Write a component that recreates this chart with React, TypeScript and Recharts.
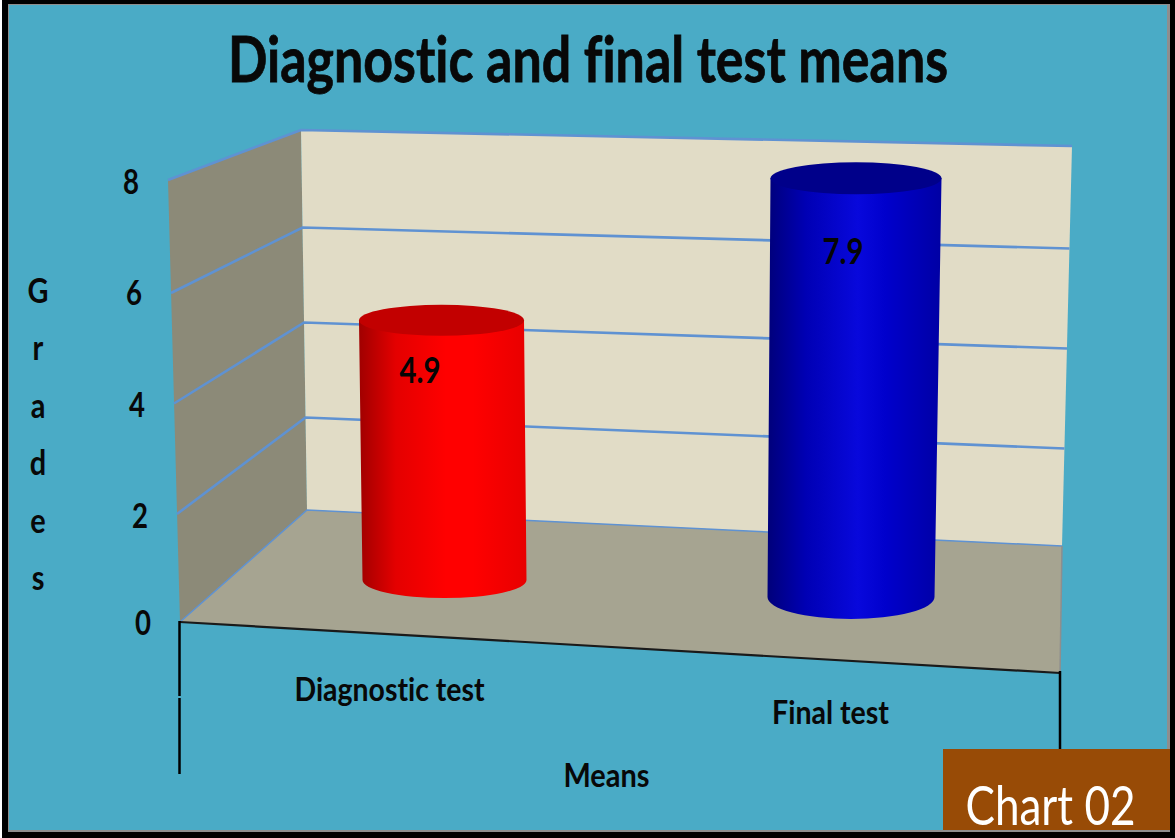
import React from "react";
import { ComposedChart, Bar, Line, XAxis, YAxis, Customized, Label } from "recharts";

const categories = ["Diagnostic test", "Final test"];
const means = [4.9, 7.9];
const gradeTicks = [0, 2, 4, 6, 8];
const yLetters = ["G", "r", "a", "d", "e", "s"];
const chartData = categories.map((name, i) => ({ name, mean: means[i] }));

const W = 1175;
const H = 838;
const FONT = "Lato, 'Noto Sans', sans-serif";
const BG = "#4AABC6";
const GRID = "#5F92D2";
const INK = "#080808";
const noLig = { fontVariantLigatures: "none" as const };

// Perspective look of the 3D box
const wall = {
  frontTop: [168, 180], frontBottom: [180, 622],
  backTop: [301, 130], backBottom: [307, 510],
  rightTop: [1072, 146], rightBottom: [1062, 546],
  floorRight: [1060, 673],
};
const lerp = (a: number[], b: number[], t: number) => [a[0] + (b[0] - a[0]) * t, a[1] + (b[1] - a[1]) * t];
const pts = (...p: number[][]) => p.map((q) => q.join(",")).join(" ");

const barLook = [
  { lift: -43, topShift: 0, topHalf: 82.5, topRy: 15.5, botShift: 3, botHalf: 82, botRy: 18, labelX: 420, labelBase: 383, labelW: 41, top: "#C20000", stops: ["#A00000", "#E40000", "#FF0000", "#FF0000", "#E80000"] },
  { lift: -26, topShift: 2.5, topHalf: 85.5, topRy: 16, botShift: -2.5, botHalf: 83.5, botRy: 22, labelX: 843, labelBase: 264, labelW: 41, top: "#00008A", stops: ["#00007A", "#0000B4", "#0808DC", "#0000CC", "#0000A4"] },
];
const xTickLook = [
  { x: 389.5, base: 701, w: 190 },
  { x: 830.5, base: 724, w: 117 },
];

function Box() {
  return (
    <g>
      <polygon points={pts(wall.frontTop, wall.backTop, wall.backBottom, wall.frontBottom)} fill="#8C8A78" />
      <polygon points={pts(wall.backTop, wall.rightTop, wall.rightBottom, wall.backBottom)} fill="#E1DCC6" />
      <polygon points={pts(wall.backBottom, wall.rightBottom, wall.floorRight, wall.frontBottom)} fill="#A6A491" />
      {gradeTicks.map((v) => {
        const t = v / 8;
        const sag = v === 0 || v === 8 ? 0 : 2.5;
        const a = lerp(wall.frontBottom, wall.frontTop, t);
        const b = lerp(wall.backBottom, wall.backTop, t);
        const c = lerp(wall.rightBottom, wall.rightTop, t);
        a[1] += sag; b[1] += sag; c[1] += sag;
        return <polyline key={v} points={pts(a, b, c)} fill="none" stroke={GRID} strokeWidth={v === 0 ? 1.5 : 2.6} />;
      })}
      <line x1={wall.rightBottom[0]} y1={wall.rightBottom[1]} x2={wall.floorRight[0]} y2={wall.floorRight[1]} stroke="#8E8E8E" strokeWidth={1.5} />
      <line x1={wall.frontBottom[0]} y1={wall.frontBottom[1]} x2={wall.floorRight[0]} y2={wall.floorRight[1]} stroke="#1A1A1A" strokeWidth={2.2} />
      <line x1={179.5} y1={621} x2={179.5} y2={696} stroke="#000" strokeWidth={2.5} />
      <line x1={179.5} y1={698} x2={179.5} y2={774} stroke="#000" strokeWidth={2.5} />
      <line x1={1060} y1={671} x2={1060} y2={750} stroke="#000" strokeWidth={2.5} />
    </g>
  );
}

function Overlay() {
  return (
    <g fontFamily={FONT} style={noLig}>
      <text x={588} y={82} textAnchor="middle" fontSize={63} fontWeight={700} fill={INK} stroke={INK} strokeWidth={0.8} textLength={720} lengthAdjust="spacingAndGlyphs">
        Diagnostic and final test means
      </text>
      {yLetters.map((c, i) => (
        <text key={i} x={38} y={303 + i * 57.4} textAnchor="middle" fontSize={34} fontWeight={700} fill={INK} transform={`translate(38 0) scale(0.85 1) translate(-38 0)`}>{c}</text>
      ))}
      <rect x={943} y={749} width={227} height={81} fill="#984B06" />
      <text x={1050.5} y={825} textAnchor="middle" fontSize={54} fill="#FFFFFF" textLength={170} lengthAdjust="spacingAndGlyphs">Chart 02</text>
    </g>
  );
}

function Cylinder(props: any) {
  const { x, y, width, height, index } = props;
  const k = barLook[index];
  const cx = x + width / 2;
  const topY = y + k.lift;
  const botY = y + height + k.lift;
  const tx = cx + k.topShift;
  const bx = cx + k.botShift;
  const id = `cyl-${index}`;
  const offs = ["0%", "22%", "52%", "68%", "100%"];
  return (
    <g>
      <defs>
        <linearGradient id={id} x1="0" y1="0" x2="1" y2="0">
          {k.stops.map((c, i) => <stop key={i} offset={offs[i]} stopColor={c} />)}
        </linearGradient>
      </defs>
      <path
        d={`M${tx - k.topHalf},${topY} L${bx - k.botHalf},${botY} A${k.botHalf},${k.botRy} 0 0 0 ${bx + k.botHalf},${botY} L${tx + k.topHalf},${topY} Z`}
        fill={`url(#${id})`}
      />
      <ellipse cx={tx} cy={topY} rx={k.topHalf} ry={k.topRy} fill={k.top} />
    </g>
  );
}

function BarValue(props: any) {
  const { index, value } = props;
  const k = barLook[index];
  return (
    <text x={k.labelX} y={k.labelBase} textAnchor="middle" fontFamily={FONT} fontSize={36} fontWeight={700} fill="#050505" textLength={k.labelW} lengthAdjust="spacingAndGlyphs">
      {value}
    </text>
  );
}

function GradeTick(props: any) {
  const { y, payload } = props;
  const v = payload.value;
  const nudge: Record<number, number> = { 0: 0, 2: 3, 4: 2.5, 6: 1, 8: 0 };
  return (
    <text x={131 + (8 - v) * 1.5} y={y + 12 + nudge[v]} textAnchor="middle" fontFamily={FONT} fontSize={35} fontWeight={700} fill={INK} textLength={16} lengthAdjust="spacingAndGlyphs">
      {v}
    </text>
  );
}

function CategoryTick(props: any) {
  const { payload, index } = props;
  const k = xTickLook[index];
  return (
    <text x={k.x} y={k.base} textAnchor="middle" fontFamily={FONT} fontSize={33} fontWeight={700} fill={INK} style={noLig} textLength={k.w} lengthAdjust="spacingAndGlyphs">
      {payload.value}
    </text>
  );
}

function AxisTitle(props: any) {
  return (
    <text x={606.5} y={787} textAnchor="middle" fontFamily={FONT} fontSize={32} fontWeight={700} fill={INK} textLength={86} lengthAdjust="spacingAndGlyphs">
      {props.value}
    </text>
  );
}

export default function App() {
  return (
    <div style={{ position: "absolute", left: 0, top: 0, width: W, height: H, background: "#fff" }}>
      <div style={{ position: "absolute", left: 2, top: 0, width: W - 2, height: H, background: "#000" }} />
      <div style={{ position: "absolute", left: 8, top: 4, width: 1162, height: 828, background: "#8E8E8E" }} />
      <div style={{ position: "absolute", left: 9, top: 5, width: 1158, height: 825, background: BG }} />
      <div style={{ position: "absolute", left: 0, top: 0 }}>
        <ComposedChart width={W} height={H} data={chartData} margin={{ top: 182, right: 116, bottom: 0, left: 0 }} barCategoryGap={0}>
          <Customized component={Box} />
          <XAxis dataKey="name" axisLine={false} tickLine={false} height={215} interval={0} tick={<CategoryTick />}>
            <Label value="Means" content={<AxisTitle value="Means" />} />
          </XAxis>
          <YAxis yAxisId="grade" domain={[0, 8]} ticks={gradeTicks} width={235} axisLine={false} tickLine={false} tick={<GradeTick />} />
          <YAxis yAxisId="bars" hide domain={[0, 8.32]} />
          <Line yAxisId="grade" dataKey="mean" stroke="none" dot={false} activeDot={false} legendType="none" isAnimationActive={false} />
          <Bar yAxisId="bars" dataKey="mean" barSize={165} shape={<Cylinder />} label={<BarValue />} isAnimationActive={false} />
          <Customized component={Overlay} />
        </ComposedChart>
      </div>
    </div>
  );
}
